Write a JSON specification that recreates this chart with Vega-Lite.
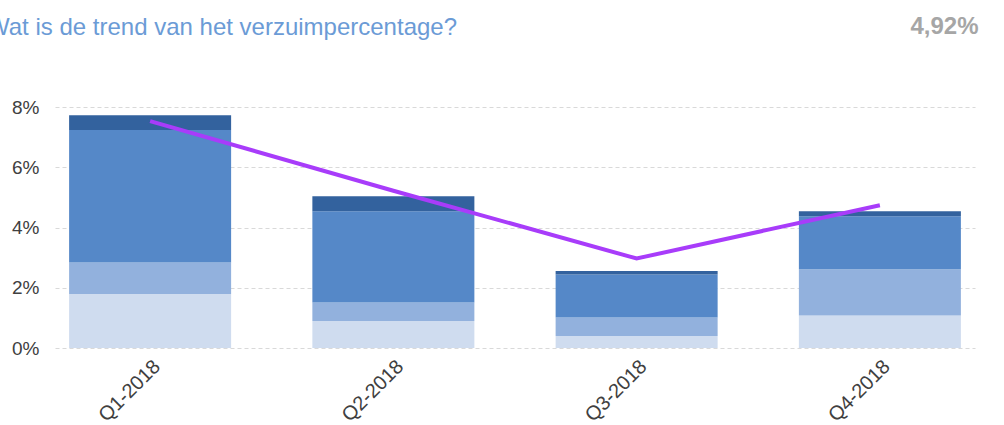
{
  "$schema": "https://vega.github.io/schema/vega-lite/v6.json",
  "width": 920,
  "height": 241,
  "autosize": {"type": "none"},
  "padding": {"left": 55, "top": 107, "right": 29, "bottom": 77},
  "background": "white",
  "title": {
    "text": "Wat is de trend van het verzuimpercentage?",
    "anchor": "start",
    "frame": "group",
    "font": "Liberation Sans",
    "fontSize": 24,
    "fontWeight": "normal",
    "color": "#6b9bd6",
    "baseline": "alphabetic",
    "offset": 0,
    "dx": -68,
    "dy": 45
  },
  "config": {
    "view": {"stroke": null},
    "font": "Liberation Sans"
  },
  "datasets": {
    "segments": [
      {"kwartaal": "Q1-2018", "categorie": "kort", "volgorde": 1, "verzuim": 0.0179},
      {"kwartaal": "Q1-2018", "categorie": "middellang", "volgorde": 2, "verzuim": 0.0105},
      {"kwartaal": "Q1-2018", "categorie": "lang", "volgorde": 3, "verzuim": 0.0440},
      {"kwartaal": "Q1-2018", "categorie": "extra lang", "volgorde": 4, "verzuim": 0.0049},
      {"kwartaal": "Q2-2018", "categorie": "kort", "volgorde": 1, "verzuim": 0.0090},
      {"kwartaal": "Q2-2018", "categorie": "middellang", "volgorde": 2, "verzuim": 0.0061},
      {"kwartaal": "Q2-2018", "categorie": "lang", "volgorde": 3, "verzuim": 0.0303},
      {"kwartaal": "Q2-2018", "categorie": "extra lang", "volgorde": 4, "verzuim": 0.0050},
      {"kwartaal": "Q3-2018", "categorie": "kort", "volgorde": 1, "verzuim": 0.0040},
      {"kwartaal": "Q3-2018", "categorie": "middellang", "volgorde": 2, "verzuim": 0.0061},
      {"kwartaal": "Q3-2018", "categorie": "lang", "volgorde": 3, "verzuim": 0.0143},
      {"kwartaal": "Q3-2018", "categorie": "extra lang", "volgorde": 4, "verzuim": 0.0012},
      {"kwartaal": "Q4-2018", "categorie": "kort", "volgorde": 1, "verzuim": 0.0108},
      {"kwartaal": "Q4-2018", "categorie": "middellang", "volgorde": 2, "verzuim": 0.0153},
      {"kwartaal": "Q4-2018", "categorie": "lang", "volgorde": 3, "verzuim": 0.0176},
      {"kwartaal": "Q4-2018", "categorie": "extra lang", "volgorde": 4, "verzuim": 0.0017}
    ],
    "trend": [
      {"kwartaal": "Q1-2018", "trend": 0.0753},
      {"kwartaal": "Q2-2018", "trend": 0.0522},
      {"kwartaal": "Q3-2018", "trend": 0.0297},
      {"kwartaal": "Q4-2018", "trend": 0.0474}
    ]
  },
  "layer": [
    {
      "data": {"name": "segments"},
      "mark": {"type": "bar"},
      "encoding": {
        "x": {
          "field": "kwartaal",
          "type": "nominal",
          "sort": null,
          "scale": {"paddingInner": 0.334, "paddingOuter": 0.058},
          "axis": {
            "orient": "bottom",
            "title": null,
            "labelAngle": -45,
            "labelFontSize": 20,
            "labelColor": "#404040",
            "labelPadding": 8,
            "ticks": false,
            "domain": false,
            "grid": false
          }
        },
        "y": {
          "field": "verzuim",
          "type": "quantitative",
          "stack": "zero",
          "scale": {"domain": [0, 0.08], "nice": false},
          "axis": {
            "title": null,
            "values": [0, 0.02, 0.04, 0.06, 0.08],
            "format": ".0%",
            "labelFontSize": 19,
            "labelColor": "#404040",
            "labelPadding": 16,
            "ticks": false,
            "domain": false,
            "grid": true,
            "gridColor": "#d9d9d9",
            "gridDash": [4, 3],
            "gridWidth": 1
          }
        },
        "color": {
          "field": "categorie",
          "type": "nominal",
          "scale": {
            "domain": ["kort", "middellang", "lang", "extra lang"],
            "range": ["#cfdcef", "#92b1dd", "#5588c8", "#33629e"]
          },
          "legend": null
        },
        "order": {"field": "volgorde", "type": "quantitative", "sort": "ascending"}
      }
    },
    {
      "data": {"name": "trend"},
      "mark": {"type": "line", "color": "#a83cfa", "strokeWidth": 4},
      "encoding": {
        "x": {
          "field": "kwartaal",
          "type": "nominal",
          "sort": null,
          "axis": {
            "orient": "top",
            "title": "4,92%",
            "titleFont": "Liberation Sans",
            "titleFontSize": 24,
            "titleFontWeight": "bold",
            "titleColor": "#a6a6a6",
            "titleAnchor": "end",
            "titleAlign": "right",
            "titleBaseline": "alphabetic",
            "titlePadding": 74,
            "titleX": 923,
            "labels": false,
            "ticks": false,
            "domain": false,
            "grid": false
          }
        },
        "y": {"field": "trend", "type": "quantitative"}
      }
    }
  ],
  "resolve": {"axis": {"x": "independent"}}
}
